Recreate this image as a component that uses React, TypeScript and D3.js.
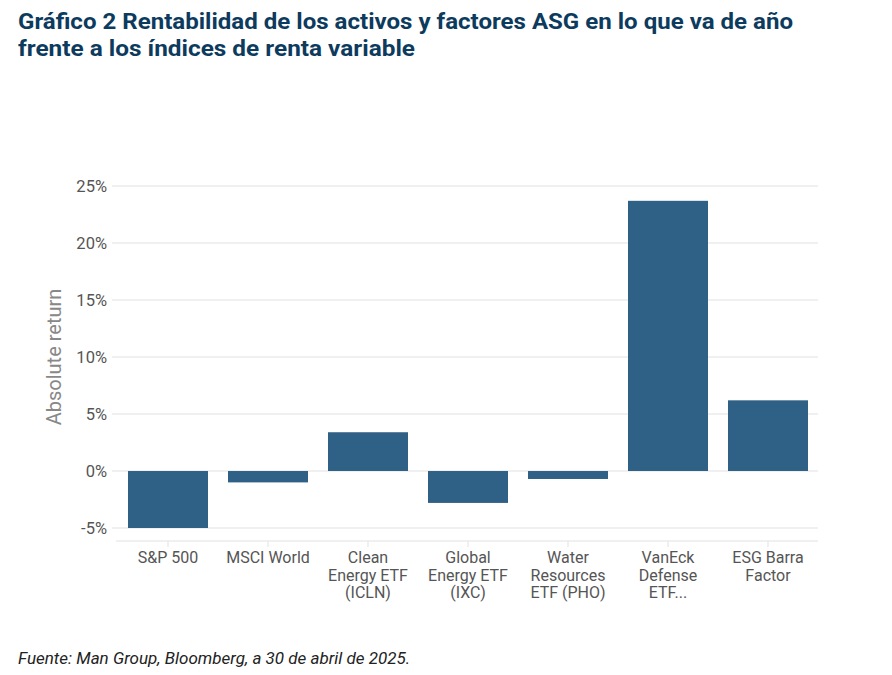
import React, { useEffect, useRef } from 'react';
import * as d3 from 'd3';

const categories = [
    ['S&P 500'],
    ['MSCI World'],
    ['Clean', 'Energy ETF', '(ICLN)'],
    ['Global', 'Energy ETF', '(IXC)'],
    ['Water', 'Resources', 'ETF (PHO)'],
    ['VanEck', 'Defense', 'ETF...'],
    ['ESG Barra', 'Factor'],
];
const returns = [-5.0, -1.0, 3.4, -2.8, -0.7, 23.7, 6.2];
const yTicks = [-5, 0, 5, 10, 15, 20, 25];

const W = 892;
const H = 675;

export default function App() {
    const svgRef = useRef<SVGSVGElement>(null);

    useEffect(() => {
        if (!svgRef.current) return;
        const svg = d3.select(svgRef.current);
        svg.selectAll('*').remove();

        const x = d3.scaleBand<number>()
            .domain(d3.range(categories.length))
            .range([118, 818])
            .paddingInner(0.2)
            .paddingOuter(0.1);

        const y = d3.scaleLinear().domain([-5, 25]).range([528, 186]);

        // title
        const title = svg.append('text')
            .attr('fill', '#0d3b5e')
            .style('font-family', 'Roboto, sans-serif')
            .style('font-size', '22.5px')
            .style('font-weight', '700');
        title.append('tspan').attr('x', 18).attr('y', 29)
            .attr('textLength', 775).attr('lengthAdjust', 'spacingAndGlyphs')
            .text('Gráfico 2 Rentabilidad de los activos y factores ASG en lo que va de año');
        title.append('tspan').attr('x', 18).attr('y', 56)
            .attr('textLength', 397).attr('lengthAdjust', 'spacingAndGlyphs')
            .text('frente a los índices de renta variable');

        // grid
        svg.append('g').selectAll('line')
            .data(yTicks)
            .join('line')
            .attr('x1', 112).attr('x2', 818)
            .attr('y1', d => y(d)).attr('y2', d => y(d))
            .attr('stroke', '#ebebeb')
            .attr('stroke-width', 1.5);

        // y tick labels
        svg.append('g').selectAll('text')
            .data(yTicks)
            .join('text')
            .attr('x', 107)
            .attr('y', d => y(d))
            .attr('dy', '0.35em')
            .attr('text-anchor', 'end')
            .attr('fill', '#555')
            .style('font-family', 'Roboto, sans-serif')
            .style('font-size', '16.5px')
            .text(d => `${d}%`);

        svg.append('text')
            .attr('transform', `translate(61,${y(10)}) rotate(-90)`)
            .attr('text-anchor', 'middle')
            .attr('fill', '#888')
            .style('font-family', 'Roboto, sans-serif')
            .style('font-size', '20px')
            .text('Absolute return');

        // bars
        svg.append('g').selectAll('rect')
            .data(returns)
            .join('rect')
            .attr('x', (_, i) => x(i)!)
            .attr('width', x.bandwidth())
            .attr('y', d => y(Math.max(0, d)))
            .attr('height', d => Math.abs(y(d) - y(0)))
            .attr('fill', '#2f6086');

        // x axis
        svg.append('line')
            .attr('x1', 116).attr('x2', 818)
            .attr('y1', 541).attr('y2', 541)
            .attr('stroke', '#ebebeb')
            .attr('stroke-width', 1.5);

        const xg = svg.append('g').selectAll('g')
            .data(categories)
            .join('g')
            .attr('transform', (_, i) => `translate(${x(i)! + x.bandwidth() / 2},0)`);
        xg.append('line')
            .attr('y1', 541).attr('y2', 547)
            .attr('stroke', '#ebebeb')
            .attr('stroke-width', 1.5);
        xg.append('text')
            .attr('text-anchor', 'middle')
            .attr('fill', '#555')
            .style('font-family', 'Roboto, sans-serif')
            .style('font-size', '16px')
            .selectAll('tspan')
            .data(d => d)
            .join('tspan')
            .attr('x', 0)
            .attr('y', (_, j) => 563 + j * 17.5)
            .text(d => d);

        // source
        svg.append('text')
            .attr('x', 18)
            .attr('y', 664)
            .attr('fill', '#222')
            .style('font-family', 'Roboto, sans-serif')
            .style('font-size', '17px')
            .style('font-style', 'italic')
            .text('Fuente: Man Group, Bloomberg, a 30 de abril de 2025.');
    }, []);

    return (
        <div style={{ position: 'absolute', left: 0, top: 0 }}>
            <svg ref={svgRef} width={W} height={H} style={{ display: 'block', background: '#fff' }}></svg>
        </div>
    );
}
